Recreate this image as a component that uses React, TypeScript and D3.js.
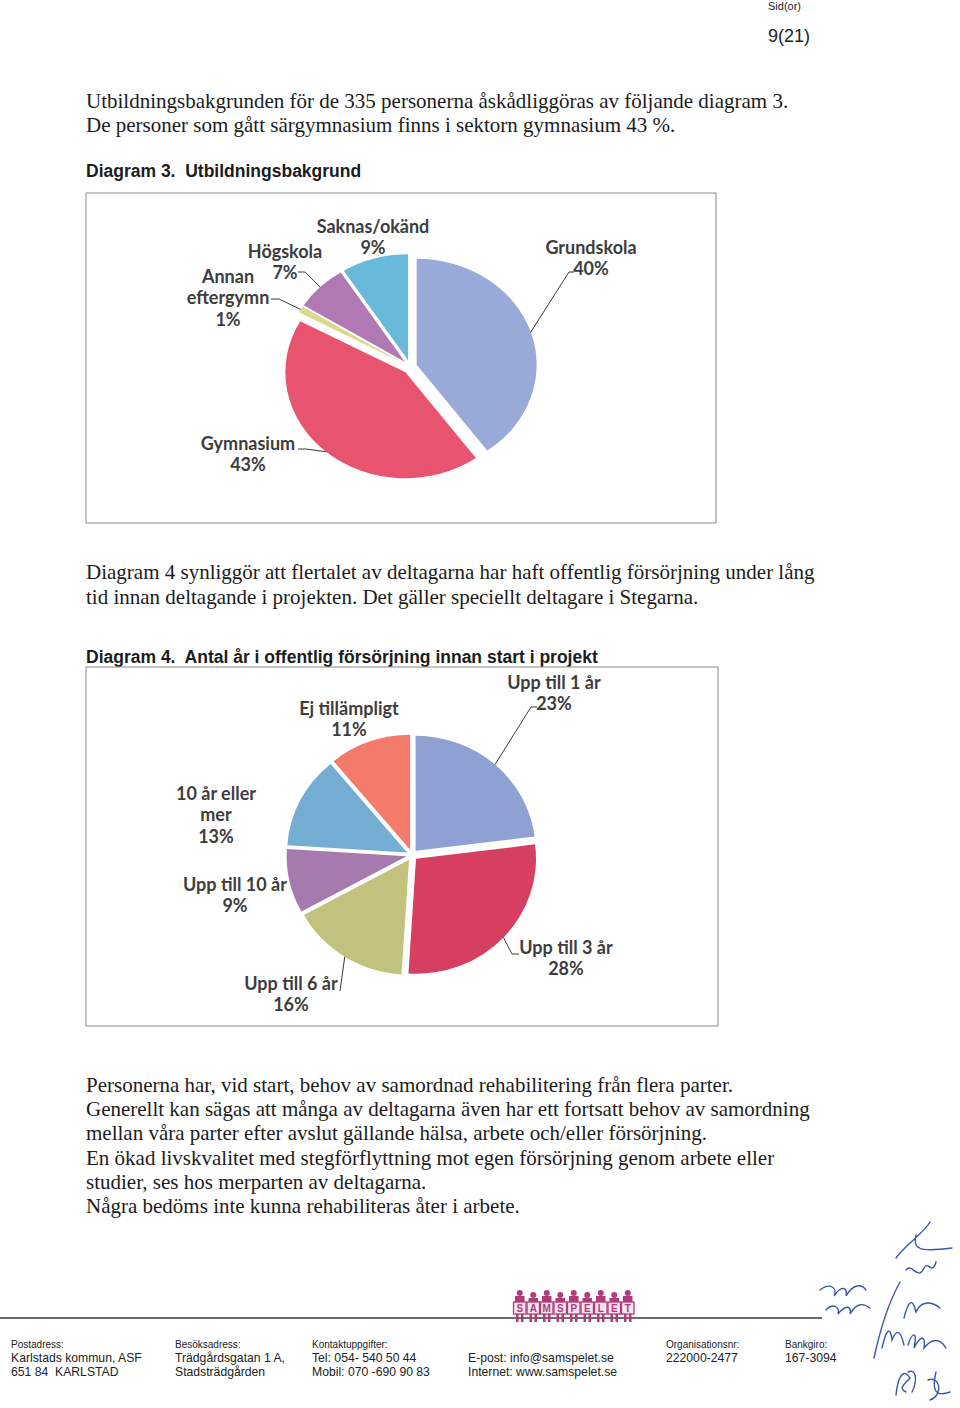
import React from "react";
import * as d3 from "d3";

// ---------- data ----------
const eduLabels = ["Grundskola", "Gymnasium", "Annan eftergymn", "Högskola", "Saknas/okänd"];
const eduValues = [40, 43, 1, 7, 9];
const eduColors = ["#9aaad8", "#e8546f", "#dcd88e", "#b079b3", "#69b9da"];

const yearLabels = ["Upp till 1 år", "Upp till 3 år", "Upp till 6 år", "Upp till 10 år", "10 år eller mer", "Ej tillämpligt"];
const yearValues = [23, 28, 16, 9, 13, 11];
const yearColors = ["#8fa0d3", "#d63f5f", "#c2c27e", "#a67aae", "#74aed3", "#f47a6c"];

// ---------- text ----------
const para1 = [
  "Utbildningsbakgrunden för de 335 personerna åskådliggöras av följande diagram 3.",
  "De personer som gått särgymnasium finns i sektorn gymnasium 43 %.",
];
const para2 = [
  "Diagram 4 synliggör att flertalet av deltagarna har haft offentlig försörjning under lång",
  "tid innan deltagande i projekten. Det gäller speciellt deltagare i Stegarna.",
];
const para3 = [
  "Personerna har, vid start, behov av samordnad rehabilitering från flera parter.",
  "Generellt kan sägas att många av deltagarna även har ett fortsatt behov av samordning",
  "mellan våra parter efter avslut gällande hälsa, arbete och/eller försörjning.",
  "En ökad livskvalitet med stegförflyttning mot egen försörjning genom arbete eller",
  "studier, ses hos merparten av deltagarna.",
  "Några bedöms inte kunna rehabiliteras åter i arbete.",
];
const title3 = "Diagram 3.\u00a0 Utbildningsbakgrund";
const title4 = "Diagram 4.\u00a0 Antal år i offentlig försörjning innan start i projekt";
const footerCols = [
  { head: "Postadress:", lines: ["Karlstads kommun, ASF", "651 84\u00a0 KARLSTAD"] },
  { head: "Besöksadress:", lines: ["Trädgårdsgatan 1 A,", "Stadsträdgården"] },
  { head: "Kontaktuppgifter:", lines: ["Tel: 054- 540 50 44", "Mobil: 070 -690 90 83"] },
  { head: "", lines: ["E-post: info@samspelet.se", "Internet: www.samspelet.se"] },
  { head: "Organisationsnr:", lines: ["222000-2477"] },
  { head: "Bankgiro:", lines: ["167-3094"] },
];
const footerX = [11, 175, 312, 468, 666, 785];
const logoLetters = "SAMSPELET".split("");

// ---------- layout ----------
type LabelLayout = { x: number; y: number; lines: string[]; leader?: [number, number, number] };
const eduLayout: LabelLayout[] = [
  { x: 591, y: 247, lines: ["Grundskola"], leader: [574, 272, -5] },
  { x: 248, y: 443, lines: ["Gymnasium"], leader: [298, 449, 8] },
  { x: 228, y: 276, lines: ["Annan", "eftergymn"], leader: [271, 299, 8] },
  { x: 285, y: 251, lines: ["Högskola"], leader: [298, 272, 7] },
  { x: 373, y: 226, lines: ["Saknas/okänd"] },
];
const yearLayout: LabelLayout[] = [
  { x: 554, y: 682, lines: ["Upp till 1 år"], leader: [537, 707, -6] },
  { x: 566, y: 947, lines: ["Upp till 3 år"], leader: [519, 954, -7] },
  { x: 291, y: 983, lines: ["Upp till 6 år"], leader: [340, 991, 0] },
  { x: 235, y: 884, lines: ["Upp till 10 år"] },
  { x: 216, y: 793, lines: ["10 år eller", "mer"] },
  { x: 349, y: 708, lines: ["Ej tillämpligt"] },
];

type PieProps = {
  values: number[];
  colors: string[];
  layout: LabelLayout[];
  cx: number;
  cy: number;
  rx: number;
  ry: number;
  explode: number;
};

function Pie({ values, colors, layout, cx, cy, rx, ry, explode }: PieProps) {
  const pie = d3.pie<number>().sort(null).value((d) => d)(values);
  const arc = d3.arc<d3.PieArcDatum<number>>().innerRadius(0).outerRadius(rx);
  const total = d3.sum(values);
  const k = ry / rx;
  return (
    <g>
      {pie.map((p, i) => {
        const m = (p.startAngle + p.endAngle) / 2;
        const tx = cx + explode * Math.sin(m);
        const ty = cy - explode * Math.cos(m);
        return (
          <path
            key={i}
            d={arc(p) || ""}
            fill={colors[i]}
            transform={`translate(${tx},${ty}) scale(1,${k})`}
          />
        );
      })}
      {pie.map((p, i) => {
        const L = layout[i];
        const m = (p.startAngle + p.endAngle) / 2;
        const tx = cx + explode * Math.sin(m);
        const ty = cy - explode * Math.cos(m);
        const ax = tx + rx * Math.sin(m);
        const ay = ty - ry * Math.cos(m);
        const pct = `${Math.round((values[i] / total) * 100)}%`;
        const lines = [...L.lines, pct];
        return (
          <g key={"l" + i}>
            {L.leader && (
              <polyline
                points={`${L.leader[0]},${L.leader[1]} ${L.leader[0] + L.leader[2]},${L.leader[1]} ${ax},${ay}`}
                fill="none"
                stroke="#3a3a3a"
                strokeWidth={1}
              />
            )}
            <text
              x={L.x}
              y={L.y}
              textAnchor="middle"
              fontFamily="Lato, 'Open Sans', sans-serif"
              fontWeight={700}
              fontSize={18}
              fill="#3d3d3d"
            >
              {lines.map((t, j) => (
                <tspan key={j} x={L.x} y={L.y + 6.5 + j * 21.7}>
                  {t}
                </tspan>
              ))}
            </text>
          </g>
        );
      })}
    </g>
  );
}

function Para({ lines, x, y, lh }: { lines: string[]; x: number; y: number; lh: number }) {
  return (
    <text fontFamily="'Liberation Serif', 'Times New Roman', serif" fontSize={21} fill="#1c1c1c">
      {lines.map((t, i) => (
        <tspan key={i} x={x} y={y + i * lh}>
          {t}
        </tspan>
      ))}
    </text>
  );
}

function Logo({ x, y }: { x: number; y: number }) {
  const bw = 13.5;
  const col = "#b23a7a";
  return (
    <g>
      {logoLetters.map((c, i) => {
        const bx = x + i * bw;
        return (
          <g key={i}>
            <circle cx={bx + bw / 2} cy={y + 3 + (i % 2) * 2} r={3} fill={col} />
            <rect x={bx + 2} y={y + 6 + (i % 2) * 2} width={bw - 4} height={8} fill={col} />
            <rect x={bx + 3} y={y + 24} width={2.5} height={8} fill={col} />
            <rect x={bx + bw - 5.5} y={y + 24} width={2.5} height={8} fill={col} />
            <rect x={bx + 0.5} y={y + 12} width={bw - 1} height={12} fill="#f4e6ee" stroke={col} strokeWidth={1.3} />
            <text
              x={bx + bw / 2}
              y={y + 22}
              textAnchor="middle"
              fontFamily="'Liberation Sans', Arial, sans-serif"
              fontSize={10}
              fontWeight={700}
              fill={col}
            >
              {c}
            </text>
          </g>
        );
      })}
    </g>
  );
}

const signaturePaths = [
  "M896,1258 C905,1245 925,1232 930,1222 M916,1235 C912,1250 920,1252 952,1248",
  "M820,1290 C830,1282 838,1288 834,1296 C842,1284 848,1288 846,1296 C852,1286 860,1282 866,1290",
  "M826,1310 C834,1302 840,1308 838,1314 C846,1304 852,1306 850,1314 C856,1304 862,1302 870,1308",
  "M874,1358 C880,1330 890,1300 900,1282",
  "M906,1270 C912,1262 918,1282 924,1268 C928,1260 932,1276 936,1262",
  "M904,1318 C908,1302 912,1296 916,1312 C920,1302 930,1300 940,1308",
  "M882,1348 C886,1330 890,1325 892,1340 C896,1330 900,1328 904,1345",
  "M908,1345 C912,1332 918,1330 914,1348 C920,1336 926,1334 924,1348 C932,1338 940,1338 946,1348",
  "M896,1395 C898,1375 904,1368 910,1378 C904,1385 898,1388 906,1392 M908,1372 C916,1368 918,1380 912,1392",
  "M928,1380 C940,1375 944,1395 930,1400 M936,1372 C932,1388 934,1398 950,1392",
];

export default function App() {
  return (
    <div style={{ position: "absolute", left: 0, top: 0 }}>
      <svg width={960} height={1408} viewBox="0 0 960 1408" style={{ display: "block", background: "#ffffff" }}>
        {/* header */}
        <text x={768} y={10} fontFamily="'Liberation Sans', Arial, sans-serif" fontSize={11} fill="#222">
          Sid(or)
        </text>
        <text x={768} y={42} fontFamily="'Liberation Sans', Arial, sans-serif" fontSize={18} fill="#222">
          9(21)
        </text>

        <Para lines={para1} x={86} y={108} lh={24} />
        <text x={86} y={177} fontFamily="'Liberation Sans', Arial, sans-serif" fontSize={17.5} fontWeight={700} fill="#1c1c1c">
          {title3}
        </text>

        {/* chart 1 frame */}
        <rect x={86} y={193} width={630} height={330} fill="#fff" stroke="#8a8a8a" strokeWidth={1} />
        <Pie values={eduValues} colors={eduColors} layout={eduLayout} cx={410} cy={367} rx={120} ry={106} explode={7} />

        <Para lines={para2} x={86} y={579} lh={25} />
        <text x={86} y={663} fontFamily="'Liberation Sans', Arial, sans-serif" fontSize={17.5} fontWeight={700} fill="#1c1c1c">
          {title4}
        </text>

        {/* chart 2 frame */}
        <rect x={86} y={667} width={632} height={359} fill="none" stroke="#8a8a8a" strokeWidth={1} />
        <Pie values={yearValues} colors={yearColors} layout={yearLayout} cx={412} cy={855} rx={120} ry={115} explode={5.5} />

        <Para lines={para3} x={86} y={1092} lh={24.2} />

        {/* footer */}
        <line x1={0} y1={1318} x2={822} y2={1318} stroke="#3a3a3a" strokeWidth={1.5} />
        <Logo x={513} y={1290} />
        {footerCols.map((c, i) => (
          <g key={i} fontFamily="'Liberation Sans', Arial, sans-serif" fill="#222">
            {c.head && (
              <text x={footerX[i]} y={1348} fontSize={10}>
                {c.head}
              </text>
            )}
            {c.lines.map((t, j) => (
              <text key={j} x={footerX[i]} y={1362 + j * 14} fontSize={12.2}>
                {t}
              </text>
            ))}
          </g>
        ))}

        {/* handwritten initials */}
        <g fill="none" stroke="#3a56a8" strokeWidth={1.4} strokeLinecap="round">
          {signaturePaths.map((d, i) => (
            <path key={i} d={d} />
          ))}
        </g>
      </svg>
    </div>
  );
}
